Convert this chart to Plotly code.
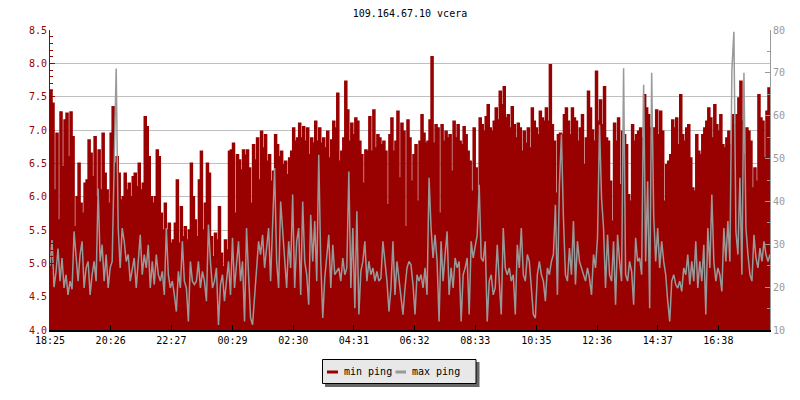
import plotly.graph_objects as go

# ---- data ----
start_label = "18:25"
step_min = 4

min_ping = [
    7.6, 7.4, 6.1, 6.95, 5.65, 7.27, 6.45, 7.15, 7.25, 6.6, 7.27, 6.9,
    5.55, 6.0, 6.5, 5.9, 5.75, 6.2, 6.25, 6.85, 6.65, 6.3, 6.9, 6.0,
    6.7, 6.1, 6.95, 6.35, 6.1, 5.9, 6.95, 7.35, 6.5, 6.6, 6.35, 5.95,
    6.0, 6.35, 6.1, 6.2, 6.0, 6.3, 6.35, 6.15, 6.5, 6.1, 6.2, 7.2,
    7.05, 6.6, 6.0, 5.9, 6.0, 6.7, 6.6, 5.75, 5.5, 5.9, 5.5, 5.6,
    5.3, 5.35, 5.6, 6.25, 5.3, 5.85, 5.4, 5.55, 5.35, 5.5, 6.5, 6.0,
    5.65, 5.4, 6.25, 6.68, 5.5, 5.9, 6.5, 6.35, 5.4, 5.1, 5.45, 5.35,
    5.85, 5.15, 4.95, 5.35, 5.2, 6.68, 6.7, 6.8, 5.75, 6.63, 6.55, 6.4,
    6.7, 6.62, 6.7, 6.43, 5.9, 6.78, 6.55, 6.88, 6.25, 6.98, 6.73, 6.93,
    6.53, 6.63, 6.23, 6.38, 6.93, 6.78, 6.6, 6.68, 6.48, 6.53, 6.33, 6.58,
    6.68, 7.03, 6.83, 6.88, 7.1, 6.88, 7.05, 6.83, 7.03, 6.63, 6.88, 6.8,
    7.13, 6.83, 7.03, 6.8, 6.88, 6.73, 6.98, 6.58, 6.85, 7.13, 7.03, 7.55,
    6.53, 6.68, 6.88, 7.73, 7.3, 6.83, 7.1, 6.93, 7.18, 7.13, 6.83, 6.63,
    6.2, 6.7, 6.68, 7.2, 6.68, 7.3, 6.73, 6.93, 6.88, 6.78, 6.83, 6.68,
    5.88, 6.93, 7.18, 6.68, 6.83, 7.28, 6.28, 7.1, 6.98, 5.55, 7.15, 6.88,
    6.23, 6.63, 6.78, 5.93, 6.83, 7.23, 6.95, 6.8, 6.83, 7.15, 8.1, 6.8,
    7.08, 7.03, 5.75, 7.08, 6.83, 6.98, 6.88, 6.93, 6.38, 7.13, 6.88, 7.08,
    6.83, 6.78, 7.05, 6.93, 6.68, 6.53, 6.08, 7.03, 6.43, 6.08, 7.18, 7.08,
    6.98, 7.2, 7.38, 7.03, 6.98, 7.13, 7.33, 7.15, 7.58, 7.38, 7.65, 7.18,
    7.23, 7.03, 7.35, 7.08, 6.88, 7.1, 7.03, 6.68, 6.98, 6.8, 7.03, 6.73,
    7.33, 7.13, 7.03, 6.93, 7.28, 7.18, 7.13, 7.33, 7.13, 7.98, 7.08, 6.83,
    6.05, 6.93, 6.95, 6.93, 7.23, 7.33, 7.13, 6.93, 7.33, 7.18, 7.13, 6.83,
    7.03, 7.23, 6.48, 6.88, 7.58, 7.33, 7.0, 6.83, 7.88, 7.13, 7.45, 7.08,
    7.65, 6.88, 6.83, 6.23, 5.63, 7.1, 6.83, 7.18, 6.18, 6.98, 6.93, 6.78,
    6.03, 5.93, 7.08, 6.83, 6.93, 6.98, 7.03, 6.88, 7.53, 7.33, 7.23, 7.03,
    6.58, 7.03, 7.3, 6.93, 7.28, 6.98, 5.93, 6.48, 6.53, 6.63, 7.15, 7.03,
    7.18, 6.78, 7.53, 6.93, 6.83, 7.03, 7.08, 6.58, 6.13, 6.08, 6.93, 6.68,
    6.63, 6.93, 7.03, 7.13, 7.33, 7.18, 6.88, 7.38, 7.08, 6.98, 7.23, 6.78,
    6.73, 6.88, 6.98, 6.78, 7.23, 7.08, 7.23, 7.48, 7.73, 7.13, 6.63, 7.03,
    6.98, 6.83, 6.13, 6.43, 6.23, 7.53, 7.18, 7.13, 6.58, 7.28, 7.63, 7.18,
]

max_ping = [
    25, 31, 20, 23.5, 29, 21.4, 26.8, 19.8, 22.9, 18.2, 21.4, 19.5,
    33, 26, 21.4, 27.6, 30.7, 19.8, 24.5, 26, 18.2, 22.9, 26, 21.4,
    43, 26, 29.9, 21.4, 27.6, 19.8, 24.5, 26, 47.8, 71, 33.8, 24.5,
    33.8, 30.7, 26, 27.6, 21.4, 24.5, 26.8, 19.8, 26, 32.2, 22.9, 27.6,
    24.5, 29.9, 19.8, 26, 20.6, 27.6, 22.9, 21.4, 23.7, 18.2, 33.8, 22.9,
    19.8, 21.4, 18.2, 14.3, 23.7, 19.8, 30.7, 21.4, 19.8, 12, 26, 21.4,
    20.6, 21.4, 26, 19.8, 23.7, 21.4, 16.7, 34.6, 26, 19.8, 21.4, 24.5,
    11.2, 20.6, 22.9, 16.7, 21.4, 26, 18.2, 31.5, 19.8, 24.5, 30.7, 21.4,
    26, 12, 33.8, 22.9, 12.8, 11.2, 18.2, 26, 30.7, 27.6, 32.2, 24.5,
    29.1, 33.8, 21.4, 35.4, 47.8, 26, 19.8, 40, 33.8, 27.6, 19.8, 30.7,
    24.5, 41.6, 19.8, 30.7, 33.8, 18.2, 40, 26, 22.9, 15.9, 36.9, 26,
    35.4, 21.4, 50.9, 26, 12.8, 22.1, 27.6, 32.2, 19.8, 29.9, 22.9, 23.7,
    24.5, 21.4, 26.8, 22.9, 24.5, 47, 19.8, 33.8, 15.1, 37.7, 13.6, 23.7,
    26, 30.7, 21.4, 26, 22.9, 24.5, 21.4, 23.7, 21.4, 22.1, 30.7, 26,
    21.4, 14.3, 19.8, 30.7, 18.2, 26, 21.4, 16.7, 13.6, 19.8, 24.5, 26,
    25.2, 20.6, 13.6, 22.9, 21.4, 22.9, 19.8, 24.5, 18.2, 45.5, 33.8, 26.8,
    32.2, 26, 12, 30.7, 21.4, 27.6, 33, 18.2, 24.5, 19.8, 26.8, 24.5,
    26, 12, 22.9, 24.5, 26.8, 13.6, 30.7, 26.8, 29.1, 32.2, 43.9, 26.8,
    26, 30.7, 12, 21.4, 22.9, 18.2, 19.8, 29.9, 21.4, 13.6, 33.8, 24.5,
    22.9, 24.5, 21.4, 22.9, 13.6, 29.9, 24.5, 33.8, 22.9, 21.4, 27.6, 26,
    19.8, 13.6, 12.8, 22.9, 26, 22.9, 21.4, 16.7, 24.5, 22.9, 26, 27.6,
    39.2, 18.2, 43.9, 55.6, 36.1, 22.9, 21.4, 29.1, 22.9, 35.4, 20.6, 30.7,
    26, 24.5, 22.9, 21.4, 24.5, 22.1, 18.2, 27.6, 24.5, 31.5, 57.9, 40.8,
    33.8, 19.8, 32.2, 22.9, 21.4, 30.7, 15.9, 32.2, 26, 21.4, 71.1, 22.9,
    21.4, 26, 23.7, 15.9, 31.5, 26, 26.8, 22.9, 67.2, 26, 44.7, 15.1,
    70, 36.9, 26, 33.8, 24.5, 30.7, 26, 22.9, 16.7, 12, 21.4, 22.9,
    20.6, 19.8, 21.4, 19, 24.5, 22.9, 27.6, 20.6, 26, 21.4, 30.7, 19.8,
    26, 21.4, 29.9, 13.6, 33.8, 24.5, 41.6, 26, 21.4, 24.5, 22.9, 19,
    33.8, 26, 35.4, 26, 70.7, 79.6, 33, 27.6, 45.5, 22.9, 70, 33.8,
    27.6, 22.9, 21.4, 32.2, 26.8, 24.5, 29.1, 26, 30.7, 27.6, 26, 27.6,
]

tick_labels = ["18:25", "20:26", "22:27", "00:29", "02:30", "04:31",
               "06:32", "08:33", "10:35", "12:36", "14:37", "16:38"]
series_names = ["min ping", "max ping"]


def to_min(label, base="18:25"):
    h, m = map(int, label.split(":"))
    bh, bm = map(int, base.split(":"))
    return ((h * 60 + m) - (bh * 60 + bm)) % 1440


tick_vals = [to_min(t) for t in tick_labels]
x_min = [i * step_min for i in range(len(min_ping))]

RED = "#990000"
GRAY = "#999999"
FONT = "DejaVu Sans Mono"

# plot area in pixels (for placing the hand-made legend box)
L, R, T, B = 50, 770, 30, 330


def px(x):
    return (x - L) / (R - L)


def py(y):
    return (B - y) / (B - T)


fig = go.Figure()
fig.add_trace(go.Scatter(
    x=x_min, y=min_ping, mode="lines", name=series_names[0],
    line=dict(color=RED, width=1.5, shape="hv"),
    fill="tozeroy", fillcolor=RED, showlegend=False, hoverinfo="skip"))
fig.add_trace(go.Scatter(
    x=x_min, y=max_ping, mode="lines", yaxis="y2", name=series_names[1],
    line=dict(color=GRAY, width=1.5, shape="linear"), showlegend=False, hoverinfo="skip"))

shapes = [
    # legend shadow
    dict(type="rect", xref="paper", yref="paper", x0=px(325), x1=px(479.5),
         y0=py(387), y1=py(362), fillcolor="#666666", line=dict(width=0)),
    # legend box
    dict(type="rect", xref="paper", yref="paper", x0=px(322.5), x1=px(476),
         y0=py(383.5), y1=py(359.5), fillcolor="#e8e8e8",
         line=dict(color="black", width=1)),
    # legend keys
    dict(type="line", xref="paper", yref="paper", x0=px(327), x1=px(338),
         y0=py(372), y1=py(372), line=dict(color=RED, width=3)),
    dict(type="line", xref="paper", yref="paper", x0=px(395.5), x1=px(406),
         y0=py(372), y1=py(372), line=dict(color=GRAY, width=3)),
]
annotations = [
    dict(text=series_names[0], xref="paper", yref="paper", x=px(341.5), y=py(371.5),
         xanchor="left", yanchor="middle", showarrow=False,
         font=dict(family=FONT, size=10, color="black")),
    dict(text=series_names[1], xref="paper", yref="paper", x=px(409.5), y=py(371.5),
         xanchor="left", yanchor="middle", showarrow=False,
         font=dict(family=FONT, size=10, color="black")),
]

fig.update_layout(
    width=800, height=400,
    margin=dict(l=L, r=800 - R, t=T, b=400 - B, autoexpand=False),
    paper_bgcolor="white", plot_bgcolor="white",
    font=dict(family=FONT, size=10, color="black"),
    showlegend=False,
    title=dict(text="109.164.67.10 vcera", x=0.5, xref="paper", xanchor="center",
               y=0.966, yanchor="middle", yref="container",
               font=dict(family=FONT, size=10, color="black")),
    xaxis=dict(range=[0, 1436], tickvals=tick_vals, ticktext=tick_labels, automargin=False,
               showgrid=False, zeroline=False, showline=True, linecolor="black", linewidth=2,
               ticks="inside", ticklen=5, tickcolor="black", tickwidth=1,
               tickfont=dict(family=FONT, size=10, color="black")),
    yaxis=dict(range=[4.0, 8.5], dtick=0.5, tick0=4.0, tickformat=".1f", automargin=False,
               showgrid=True, gridcolor="#c0c0c0", gridwidth=1, zeroline=False,
               showline=True, linecolor=RED, linewidth=1,
               ticks="inside", ticklen=5, tickcolor=RED,
               tickfont=dict(family=FONT, size=10, color=RED),
               minor=dict(dtick=0.1, ticks="inside", ticklen=3, tickcolor=RED, showgrid=False)),
    yaxis2=dict(range=[10, 80], dtick=10, overlaying="y", side="right", automargin=False,
                showgrid=False, zeroline=False, showline=True, linecolor=GRAY, linewidth=1,
                ticks="inside", ticklen=5, tickcolor=GRAY,
                tickfont=dict(family=FONT, size=10, color=GRAY),
                minor=dict(dtick=5, ticks="inside", ticklen=3, tickcolor=GRAY, showgrid=False)),
    shapes=shapes,
    annotations=annotations,
)

fig.write_html("out.html", config={"displayModeBar": False},
               post_script="document.body.style.margin='0px';")
